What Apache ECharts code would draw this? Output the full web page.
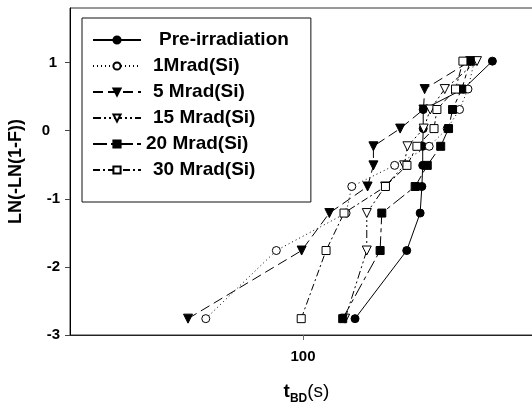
<!DOCTYPE html>
<html>
<head>
<meta charset="utf-8">
<script src="https://cdn.jsdelivr.net/npm/echarts@6/dist/echarts.min.js"></script>
<style>
html,body{margin:0;padding:0;background:#fff;}
#chart{width:532px;height:404px;}
</style>
</head>
<body>
<div id="chart"></div>
<script>
// Weibull plotting levels, LN(-LN(1-F)), lowest to highest
const yLevels = [-2.76, -1.76, -1.21, -0.82, -0.51, -0.23, 0.03, 0.31, 0.61, 1.02];

// Breakdown times t_BD (s) for each series, same order as yLevels
const preIrradiation = [143.3, 204.8, 224.7, 227.4, 228.7, 228.7, 229.5, 229.5, 302.7, 370.1];
const mrad1  = [51.1, 83.2, 134.7, 140.1, 188.4, 239.2, 270.9, 295.0, 312.7, 326.6];
const mrad5  = [45.2, 99.1, 120.0, 156.3, 162.7, 162.7, 195.7, 229.9, 231.8, 317.7];
const mrad15 = [133.8, 155.4, 155.4, 176.4, 201.2, 205.8, 230.3, 240.9, 266.3, 332.8];
const mrad20 = [131.6, 170.4, 172.4, 217.1, 236.0, 259.0, 273.4, 281.1, 299.5, 317.7];
const mrad30 = [98.8, 117.3, 132.8, 176.8, 205.1, 219.7, 247.3, 252.3, 286.9, 302.0];

const seriesNames = ['Pre-irradiation', '1Mrad(Si)', '5 Mrad(Si)', '15 Mrad(Si)', '20 Mrad(Si)', '30 Mrad(Si)'];
const xTickValues = [100];
const yTickValues = [-3, -2, -1, 0, 1];

const seriesData = [preIrradiation, mrad1, mrad5, mrad15, mrad20, mrad30];

const styles = [
  {symbol: 'circle', size: 8, rot: 0, fill: '#000', dash: 'solid'},
  {symbol: 'circle', size: 8, rot: 0, fill: '#fff', dash: [1, 3]},
  {symbol: 'triangle', size: 9, rot: 180, fill: '#000', dash: [10, 5]},
  {symbol: 'triangle', size: 9, rot: 180, fill: '#fff', dash: [8, 3, 2, 3, 2, 3]},
  {symbol: 'rect', size: 8, rot: 0, fill: '#000', dash: [14, 4, 4, 4]},
  {symbol: 'rect', size: 8, rot: 0, fill: '#fff', dash: [7, 3, 2, 3]}
];

const series = seriesNames.map((name, i) => ({
  name: name,
  type: 'line',
  data: seriesData[i].map((x, j) => [x, yLevels[j]]),
  symbol: styles[i].symbol,
  symbolSize: styles[i].size,
  symbolRotate: styles[i].rot,
  showAllSymbol: true,
  itemStyle: {color: styles[i].fill, borderColor: '#000', borderWidth: 1, opacity: 1},
  lineStyle: {color: '#000', width: 1, type: styles[i].dash},
  emphasis: {disabled: true},
  animation: false,
  z: 2 + i
}));

const chart = echarts.init(document.getElementById('chart'), null, {renderer: 'canvas'});
const FF = 'Liberation Sans, Arial, sans-serif';
const bold = {fontFamily: FF, fontWeight: 'bold', color: '#000'};

chart.setOption({
  backgroundColor: '#fff',
  animation: false,
  grid: {
    left: 70, right: -1, top: 8, bottom: 69, containLabel: false,
    outerBoundsMode: 'none',
    show: true, borderColor: '#333', borderWidth: 1, backgroundColor: 'transparent'
  },
  legend: {
    orient: 'vertical',
    left: 82,
    top: 18,
    padding: [12, 22, 22, 10],
    itemWidth: 48,
    itemHeight: 9,
    itemGap: 6,
    backgroundColor: '#fff',
    borderColor: '#111',
    borderWidth: 1,
    selectedMode: false,
    data: seriesNames,
    formatter: function (name) {
      if (name === 'Pre-irradiation') return '{p|' + name + '}';
      if (name === '20 Mrad(Si)') return '{q|' + name + '}';
      return '{n|' + name + '}';
    },
    textStyle: {
      fontFamily: FF, fontWeight: 'bold', fontSize: 19, lineHeight: 20, color: '#000',
      rich: {
        p: {fontFamily: FF, fontWeight: 'bold', fontSize: 19, lineHeight: 20, color: '#000', padding: [0, 0, 0, 13]},
        n: {fontFamily: FF, fontWeight: 'bold', fontSize: 19, lineHeight: 20, color: '#000', padding: [0, 0, 0, 7]},
        q: {fontFamily: FF, fontWeight: 'bold', fontSize: 19, lineHeight: 20, color: '#000', padding: [0, 0, 0, 0]}
      }
    }
  },
  xAxis: {
    type: 'log',
    logBase: 10,
    min: 20,
    max: 490,
    position: 'bottom',
    axisLine: {show: true, onZero: false, lineStyle: {color: '#222', width: 1}},
    axisTick: {show: true, inside: false, length: 5, customValues: xTickValues, lineStyle: {color: '#666'}},
    axisLabel: {
      show: true, margin: 14, customValues: xTickValues,
      formatter: function (v) { return Math.abs(v - 100) < 1e-6 ? '100' : ''; },
      ...bold, fontSize: 15
    },
    splitLine: {show: false},
    minorTick: {show: false},
    name: '{t|t}{b|BD}{s|(s)}',
    nameLocation: 'middle',
    nameGap: 44,
    nameTextStyle: {
      padding: [0, 0, 0, 10],
      rich: {
        t: {fontFamily: FF, fontWeight: 'bold', fontSize: 19, lineHeight: 26, color: '#000', verticalAlign: 'middle'},
        b: {fontFamily: FF, fontWeight: 'bold', fontSize: 12, lineHeight: 12, color: '#000', verticalAlign: 'bottom'},
        s: {fontFamily: FF, fontWeight: 'normal', fontSize: 19, lineHeight: 26, color: '#000', verticalAlign: 'middle'}
      }
    }
  },
  yAxis: {
    type: 'value',
    min: -3,
    max: 1.8,
    position: 'left',
    axisLine: {show: true, onZero: false, lineStyle: {color: '#000', width: 1}},
    axisTick: {show: true, inside: false, length: 5, customValues: yTickValues, lineStyle: {color: '#444'}},
    axisLabel: {
      show: true, margin: 10, customValues: yTickValues,
      formatter: function (v) {
        const r = Math.round(v);
        if (r === 0) return '{z|0}';
        if (r === 1) return '{o|1}';
        return '{d|' + r + '}';
      },
      rich: {
        z: {fontFamily: FF, fontWeight: 'bold', fontSize: 15, color: '#000', padding: [0, 10, 0, 0]},
        o: {fontFamily: FF, fontWeight: 'bold', fontSize: 15, color: '#000', padding: [0, 3, 0, 0]},
        d: {fontFamily: FF, fontWeight: 'bold', fontSize: 15, color: '#000'}
      }
    },
    splitLine: {show: false},
    name: 'LN(-LN(1-F))',
    nameLocation: 'middle',
    nameGap: 45,
    nameRotate: 90,
    nameTextStyle: {...bold, fontSize: 18}
  },
  series: series
});
</script>
</body>
</html>
